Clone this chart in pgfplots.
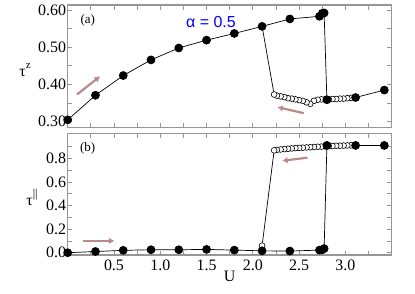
\documentclass[border=0pt]{standalone}
\usepackage{pgfplots}
\pgfplotsset{compat=1.18}
\usepackage{fontspec}
\setmainfont{Liberation Serif}
\newfontfamily\sansf{Liberation Sans}
\usetikzlibrary{arrows.meta}
\definecolor{arr}{RGB}{185,138,138}
\definecolor{framec}{RGB}{150,150,150}

\pgfplotstableread{
U t
0.00 0.305
0.30 0.371
0.60 0.424
0.90 0.466
1.20 0.498
1.50 0.519
1.80 0.537
2.10 0.556
2.40 0.576
2.72 0.583
2.75 0.591
2.77 0.592
2.80 0.359
3.11 0.365
3.42 0.385
}\fwdA

\pgfplotstableread{
U t
3.10 0.365
3.06 0.364
3.02 0.363
2.98 0.362
2.94 0.362
2.90 0.361
2.86 0.361
2.82 0.360
2.78 0.360
2.74 0.360
2.70 0.359
2.66 0.356
2.62 0.348
2.58 0.352
2.54 0.356
2.50 0.358
2.46 0.360
2.42 0.362
2.38 0.363
2.34 0.366
2.30 0.368
2.26 0.370
2.23 0.373
2.10 0.556
}\bwdA

\pgfplotstableread{
U t
0.00 0.000
0.30 0.010
0.60 0.020
0.90 0.025
1.20 0.025
1.50 0.028
1.80 0.022
2.10 0.016
2.40 0.014
2.72 0.022
2.75 0.025
2.77 0.035
2.80 0.910
3.11 0.910
3.42 0.910
}\fwdB

\pgfplotstableread{
U t
3.10 0.912
3.06 0.911
3.02 0.910
2.98 0.909
2.94 0.908
2.90 0.907
2.86 0.905
2.82 0.904
2.78 0.902
2.74 0.900
2.70 0.899
2.66 0.897
2.62 0.895
2.58 0.893
2.54 0.891
2.50 0.889
2.46 0.887
2.42 0.885
2.38 0.882
2.34 0.879
2.30 0.876
2.26 0.872
2.23 0.868
2.10 0.060
}\bwdB

\tikzset{
  fwd/.style={black, line width=0.7bp, mark=*, mark size=4bp, mark options={fill=black, draw=black}},
  bwd/.style={black, line width=0.7bp, mark=*, mark size=2.9bp, mark options={fill=white, draw=black, line width=0.6bp}},
  arrw/.style={arr, line width=2.2bp, -{Latex[length=5.5bp,width=6.5bp]}},
}
\pgfplotsset{
  myax/.style={
    scale only axis, width=324bp, anchor=south west,
    xmin=0, xmax=3.5,
    axis line style={framec, line width=1.2bp},
    every tick/.style={framec, line width=0.8bp},
    tick align=inside,
    major tick length=4.5bp, minor tick length=4.5bp,
    xtick={0.5,1,...,3}, minor xtick={0.25,0.75,...,3.25},
    /pgf/number format/assume math mode=true,
    tick label style={font=\fontsize{16}{16}\selectfont, black},
    yticklabel style={inner xsep=1.5bp},
    xticklabel style={inner ysep=5bp},
    clip=false,
  },
}

\begin{document}
\begin{tikzpicture}
\useasboundingbox (0,0) rectangle (415bp,-294bp);

\begin{axis}[myax, at={(67.7bp,-127.3bp)}, height=122.3bp,
  ymin=0.285, ymax=0.6134,
  ytick={0.3,0.4,0.5,0.6}, minor ytick={0.35,0.45,0.55},
  yticklabel style={/pgf/number format/.cd, fixed, fixed zerofill, precision=2},
  xticklabels={}]
  \addplot[bwd] table[x=U, y=t] {\bwdA};
  \addplot[fwd] table[x=U, y=t] {\fwdA};
  \draw[arrw] (axis cs:0.10,0.373) -- (axis cs:0.35,0.422);
  \draw[arrw] (axis cs:2.55,0.323) -- (axis cs:2.265,0.339);
\end{axis}

\begin{axis}[myax, at={(67.7bp,-255bp)}, height=121.7bp,
  ymin=-0.0195, ymax=1.013,
  ytick={0,0.2,0.4,0.6,0.8}, minor ytick={0.1,0.3,0.5,0.7,0.9},
  yticklabel style={/pgf/number format/.cd, fixed, fixed zerofill, precision=1},
  xticklabel style={/pgf/number format/.cd, fixed, fixed zerofill, precision=1}]
  \addplot[bwd] table[x=U, y=t] {\bwdB};
  \addplot[fwd] table[x=U, y=t] {\fwdB};
  \draw[arrw] (axis cs:0.165,0.10) -- (axis cs:0.505,0.10);
  \draw[arrw] (axis cs:2.59,0.806) -- (axis cs:2.316,0.780);
\end{axis}

\node[font=\fontsize{13}{13}\selectfont] at (87.7bp,-20.7bp) {(a)};
\node[font=\fontsize{13}{13}\selectfont] at (87.7bp,-148.3bp) {(b)};
\node[font=\sansf\fontsize{16}{16}\selectfont, text=blue] at (211bp,-21.7bp) {α = 0.5};
\node[font=\fontsize{16}{16}\selectfont] at (25bp,-70bp) {τ\raisebox{0.55em}{\fontsize{11}{11}\selectfont z}};
\node[font=\fontsize{16}{16}\selectfont] at (32bp,-197bp) {τ\raisebox{0.5em}{\fontsize{12}{12}\selectfont ||}};
\node[font=\fontsize{16}{16}\selectfont] at (229.7bp,-276.7bp) {U};
\end{tikzpicture}
\end{document}
